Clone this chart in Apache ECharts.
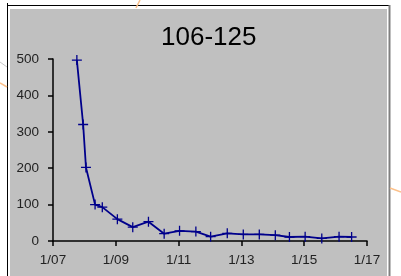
<!DOCTYPE html>
<html>
<head>
<meta charset="utf-8">
<script src="https://cdn.jsdelivr.net/npm/echarts@6/dist/echarts.min.js"></script>
<style>
  html, body { margin: 0; padding: 0; background: #fff; }
  #chart { width: 401px; height: 276px; }
</style>
</head>
<body>
<div id="chart"></div>
<script>
// day of January (fractional) and count
var days = [7.76, 7.96, 8.05, 8.34, 8.57, 9.05, 9.54, 10.04, 10.54, 11.03, 11.55,
  12.02, 12.55, 13.06, 13.57, 14.08, 14.53, 15.03, 15.56, 16.11, 16.51]
var counts = [497, 320, 202, 100, 93, 60, 38, 53, 20, 28, 26,
  12, 21, 18, 18, 16, 11, 12, 7, 12, 11]
var xTickLabels = { 7: '1/07', 9: '1/09', 11: '1/11', 13: '1/13', 15: '1/15', 17: '1/17' }
var yTickLabels = ['0', '100', '200', '300', '400', '500']
var title = '106-125'

var points = days.map(function (d, i) { return [d, counts[i]] })

var chart = echarts.init(document.getElementById('chart'))
var font = 'Liberation Sans, Arial, sans-serif'
var option = {
  backgroundColor: '#ffffff',
  animation: false,
  title: {
    text: title,
    left: 156,
    top: 20,
    textStyle: { fontFamily: font, fontSize: 26, fontWeight: 'normal', color: '#000' }
  },
  graphic: [
    { type: 'rect', shape: { x: 10, y: 9, width: 377, height: 270 }, style: { fill: '#c0c0c0' }, z: -10 },
    { type: 'line', shape: { x1: 7.5, y1: 3, x2: 7.5, y2: 276 }, style: { stroke: '#000', lineWidth: 1 }, z: -9 },
    { type: 'line', shape: { x1: 7, y1: 5.5, x2: 390, y2: 5.5 }, style: { stroke: '#000', lineWidth: 1 }, z: -9 },
    { type: 'line', shape: { x1: 389.5, y1: 5, x2: 389.5, y2: 276 }, style: { stroke: '#808080', lineWidth: 2 }, z: -9 },
    { type: 'line', shape: { x1: 136, y1: 8, x2: 140, y2: 0 }, style: { stroke: '#fbc08a', lineWidth: 1.5 }, z: -9 },
    { type: 'line', shape: { x1: 0, y1: 83, x2: 7, y2: 87 }, style: { stroke: '#fbc08a', lineWidth: 1.5 }, z: -9 },
    { type: 'line', shape: { x1: 0, y1: 62, x2: 7, y2: 67 }, style: { stroke: '#c8c8c8', lineWidth: 1 }, z: -9 },
    { type: 'line', shape: { x1: 390, y1: 188, x2: 401, y2: 192 }, style: { stroke: '#fbc08a', lineWidth: 1.5 }, z: -9 }
  ],
  grid: { left: 53, right: 34, top: 59, bottom: 35, show: false },
  xAxis: {
    type: 'value',
    min: 7,
    max: 17,
    interval: 2,
    axisLine: { lineStyle: { color: '#000', width: 1.5 } },
    axisTick: { show: true, length: 5, lineStyle: { color: '#000', width: 1.5 } },
    axisLabel: {
      margin: 12,
      fontFamily: font,
      fontSize: 13.5,
      color: '#222',
      formatter: function (v) { return xTickLabels[v] || '' }
    },
    splitLine: { show: false }
  },
  yAxis: {
    type: 'value',
    min: 0,
    max: 500,
    interval: 100,
    axisLine: { show: true, lineStyle: { color: '#000', width: 1.5 } },
    axisTick: { show: true, length: 5, lineStyle: { color: '#000', width: 1.5 } },
    axisLabel: {
      margin: 14,
      fontFamily: font,
      fontSize: 13.5,
      color: '#222',
      formatter: function (v) { return yTickLabels[v / 100] }
    },
    splitLine: { show: false }
  },
  series: [
    {
      type: 'line',
      data: points,
      symbol: 'path://M0,5L10,5M5,0L5,10',
      symbolSize: 10,
      showAllSymbol: true,
      lineStyle: { color: '#00008b', width: 1.8 },
      itemStyle: { color: 'none', borderColor: '#00008b', borderWidth: 1.3 }
    }
  ]
}
chart.setOption(option)
</script>
</body>
</html>
